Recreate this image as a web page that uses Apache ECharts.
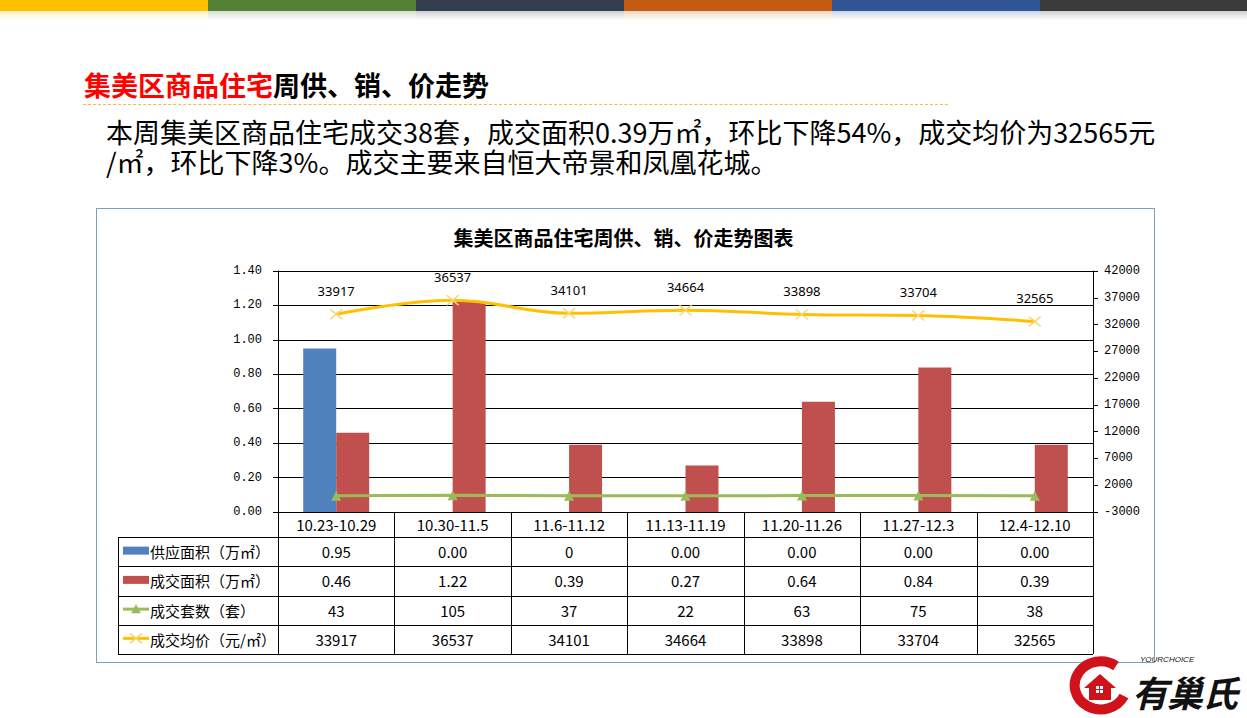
<!DOCTYPE html>
<html><head><meta charset="utf-8">
<script src="https://cdn.jsdelivr.net/npm/echarts@6/dist/echarts.min.js"></script>
<style>
html,body{margin:0;padding:0;width:1247px;height:718px;overflow:hidden;background:#fff;font-family:"Noto Sans CJK SC","Noto Sans",sans-serif;}
.strip{position:absolute;top:0;height:11px;}
.shade{position:absolute;top:11px;height:9px;}
#title{position:absolute;left:84px;top:66px;font-size:27px;font-weight:bold;color:#000;white-space:nowrap;line-height:38px;}
#title .red{color:#FF0000;}
#dash{position:absolute;left:83px;top:104px;width:865px;border-top:1px dashed #F0C040;}
.para{position:absolute;left:106px;font-size:27px;line-height:30px;color:#000;white-space:nowrap;}
#box{position:absolute;left:96px;top:208px;width:1057px;height:453px;border:1px solid #7F9FBF;}
#chart{position:absolute;left:0;top:0;width:1247px;height:718px;}
#logoText{position:absolute;left:1132px;top:673px;font-size:36px;font-weight:bold;font-style:italic;color:#111;line-height:36px;letter-spacing:-1px;}
#logoSmall{position:absolute;left:1140px;top:655px;font-size:8px;line-height:10px;font-style:italic;color:#111;font-family:"Liberation Sans",sans-serif;}
</style></head><body>
<div class="strip" style="left:0;width:208px;background:#FFC000"></div>
<div class="strip" style="left:208px;width:208px;background:#538135"></div>
<div class="strip" style="left:416px;width:208px;background:#323E4F"></div>
<div class="strip" style="left:624px;width:208px;background:#C55A11"></div>
<div class="strip" style="left:832px;width:208px;background:#2F5597"></div>
<div class="strip" style="left:1040px;width:207px;background:#3B3B3B"></div>
<div class="shade" style="left:0;width:208px;background:linear-gradient(rgba(255,192,0,0.25),rgba(255,192,0,0))"></div>
<div class="shade" style="left:208px;width:208px;background:linear-gradient(rgba(83,129,53,0.25),rgba(83,129,53,0))"></div>
<div class="shade" style="left:416px;width:208px;background:linear-gradient(rgba(50,62,79,0.25),rgba(50,62,79,0))"></div>
<div class="shade" style="left:624px;width:208px;background:linear-gradient(rgba(197,90,17,0.25),rgba(197,90,17,0))"></div>
<div class="shade" style="left:832px;width:208px;background:linear-gradient(rgba(47,85,151,0.25),rgba(47,85,151,0))"></div>
<div class="shade" style="left:1040px;width:207px;background:linear-gradient(rgba(59,59,59,0.25),rgba(59,59,59,0))"></div>
<div id="title"><span class="red">集美区商品住宅</span>周供、销、价走势</div>
<div id="dash"></div>
<div class="para" style="top:117px">本周集美区商品住宅成交38套，成交面积0.39万㎡，环比下降54%，成交均价为32565元</div>
<div class="para" style="top:147px">/㎡，环比下降3%。成交主要来自恒大帝景和凤凰花城。</div>
<div id="box"></div>
<svg style="position:absolute;left:1064px;top:656px" width="72" height="60" viewBox="0 0 72 60">
  <path d="M52 10 A26 24 0 1 0 60 40" stroke="#D0121B" stroke-width="10" fill="none"/>
  <path d="M20 32 L36 18 L52 32 L47 32 L47 44 L25 44 L25 32 Z" fill="#D0121B"/>
  <rect x="32" y="30" width="3" height="3" fill="#fff"/><rect x="36" y="30" width="3" height="3" fill="#fff"/>
  <rect x="32" y="34" width="3" height="3" fill="#fff"/><rect x="36" y="34" width="3" height="3" fill="#fff"/>
</svg>
<div id="logoSmall">YOURCHOICE</div>
<div id="logoText">有巢氏</div>
<div id="chart"></div>
<script>
const categories = ['10.23-10.29','10.30-11.5','11.6-11.12','11.13-11.19','11.20-11.26','11.27-12.3','12.4-12.10'];
const supplyArea = [0.95, 0, 0, 0, 0, 0, 0];
const dealArea = [0.46, 1.22, 0.39, 0.27, 0.64, 0.84, 0.39];
const dealUnits = [43, 105, 37, 22, 63, 75, 38];
const avgPrice = [33917, 36537, 34101, 34664, 33898, 33704, 32565];
const supplyText = ['0.95','0.00','0','0.00','0.00','0.00','0.00'];
const dealAreaText = ['0.46','1.22','0.39','0.27','0.64','0.84','0.39'];
const unitsText = dealUnits.map(String);
const priceText = avgPrice.map(String);
const seriesNames = ['供应面积（万㎡）','成交面积（万㎡）','成交套数（套）','成交均价（元/㎡）'];
const chartTitle = '集美区商品住宅周供、销、价走势图表';

const C_BLUE = '#4F81BD', C_RED = '#C0504D', C_GREEN = '#9BBB59', C_YELLOW = '#FFC000', C_X = '#F7D774';
const FONT = '"Noto Sans CJK SC","Noto Sans",sans-serif';
const xPath = 'path://M0,0L10,10M10,0L0,10';

const chart = echarts.init(document.getElementById('chart'), null, {renderer: 'svg'});
const option = {
  animation: false,
  backgroundColor: 'transparent',
  title: {text: chartTitle, left: 'center', top: 222, textStyle: {fontSize: 20, fontWeight: 'bold', color: '#000', fontFamily: FONT}},
  grid: {left: 278, right: 154, top: 271, bottom: 206},
  xAxis: {
    type: 'category', data: categories,
    axisLine: {lineStyle: {color: '#000', width: 1}},
    axisTick: {show: false},
    axisLabel: {interval: 0, margin: 5, fontSize: 15, color: '#000', fontFamily: FONT}
  },
  yAxis: [
    {type: 'value', min: 0, max: 1.4, interval: 0.2,
     axisLine: {show: true, lineStyle: {color: '#000'}},
     axisTick: {show: true, length: 5, lineStyle: {color: '#000'}},
     splitLine: {show: true, lineStyle: {color: '#000', width: 1}},
     axisLabel: {formatter: v => v.toFixed(2), fontFamily: '"Liberation Mono",monospace', fontSize: 12, color: '#000', margin: 16}},
    {type: 'value', min: -3000, max: 42000, interval: 5000, position: 'right',
     axisLine: {show: true, lineStyle: {color: '#000'}},
     axisTick: {show: true, length: 5, lineStyle: {color: '#000'}},
     splitLine: {show: false},
     axisLabel: {formatter: v => String(v), fontFamily: '"Liberation Mono",monospace', fontSize: 12, color: '#000', margin: 11}}
  ],
  series: [
    {name: seriesNames[0], type: 'bar', yAxisIndex: 0, data: supplyArea, barWidth: 33, barGap: '0%', itemStyle: {color: C_BLUE}},
    {name: seriesNames[1], type: 'bar', yAxisIndex: 0, data: dealArea, barWidth: 33, barGap: '0%', itemStyle: {color: C_RED}},
    {name: seriesNames[2], type: 'line', yAxisIndex: 1, data: dealUnits, symbol: 'triangle', symbolSize: 10,
     itemStyle: {color: C_GREEN}, lineStyle: {color: C_GREEN, width: 3}, z: 3},
    {name: seriesNames[3], type: 'line', yAxisIndex: 1, data: avgPrice, smooth: 0.4, symbol: xPath, symbolSize: [12, 10],
     itemStyle: {color: 'rgba(0,0,0,0)', borderColor: C_X, borderWidth: 1.5}, lineStyle: {color: C_YELLOW, width: 3}, z: 4,
     label: {show: true, position: 'top', distance: 11, fontSize: 13, color: '#000', fontFamily: '"Noto Sans",sans-serif'}}
  ]
};
chart.setOption(option);

// data table under the plot, aligned to the category axis
const centers = categories.map((c, i) => chart.convertToPixel({xAxisIndex: 0}, i));
const band = centers[1] - centers[0];
const axisY = chart.convertToPixel({yAxisIndex: 0}, 0);
const left0 = centers[0] - band / 2;
const right0 = centers[centers.length - 1] + band / 2;
const tableLeft = 118;
const headH = 25, rowH = 29.25;
const rowTops = [0, 1, 2, 3, 4].map(k => axisY + headH + k * rowH);
const tableBottom = rowTops[4];
const els = [];
const ln = (x1, y1, x2, y2, stroke, w) => els.push({type: 'line', shape: {x1, y1, x2, y2}, style: {stroke: stroke || '#000', lineWidth: w || 1}, z: 10});
rowTops.forEach(y => ln(tableLeft, Math.round(y) + 0.5, right0, Math.round(y) + 0.5));
ln(tableLeft + 0.5, rowTops[0], tableLeft + 0.5, tableBottom);
for (let i = 0; i <= centers.length; i++) {
  const x = Math.round(left0 + i * band) + 0.5;
  ln(x, axisY, x, tableBottom);
}
const rowsText = [supplyText, dealAreaText, unitsText, priceText];
rowsText.forEach((arr, r) => {
  const cy = rowTops[r] + rowH / 2;
  arr.forEach((t, i) => els.push({type: 'text', x: centers[i], y: cy, z: 10,
    style: {text: t, fill: '#000', font: '15px ' + FONT, align: 'center', verticalAlign: 'middle', textAlign: 'center', textVerticalAlign: 'middle'}}));
  els.push({type: 'text', x: 150, y: cy, z: 10,
    style: {text: seriesNames[r], fill: '#000', font: '15px ' + FONT, align: 'left', verticalAlign: 'middle', textAlign: 'left', textVerticalAlign: 'middle'}});
});
// legend keys in first column
const k0 = 123, k1 = 149, kc = (k0 + k1) / 2;
const cy0 = rowTops[0] + rowH / 2, cy1 = rowTops[1] + rowH / 2, cy2 = rowTops[2] + rowH / 2, cy3 = rowTops[3] + rowH / 2;
els.push({type: 'rect', shape: {x: k0, y: cy0 - 5, width: k1 - k0, height: 8}, style: {fill: C_BLUE}, z: 10});
els.push({type: 'rect', shape: {x: k0, y: cy1 - 5, width: k1 - k0, height: 8}, style: {fill: C_RED}, z: 10});
ln(k0, cy2 - 1, k1, cy2 - 1, C_GREEN, 3);
els.push({type: 'polygon', shape: {points: [[kc, cy2 - 6], [kc - 5, cy2 + 3], [kc + 5, cy2 + 3]]}, style: {fill: C_GREEN}, z: 11});
ln(k0, cy3 - 1, k1, cy3 - 1, C_YELLOW, 3);
ln(kc - 6, cy3 - 6, kc + 6, cy3 + 4, C_X, 1.5);
ln(kc + 6, cy3 - 6, kc - 6, cy3 + 4, C_X, 1.5);
chart.setOption({graphic: {elements: els}});
</script>
</body></html>
